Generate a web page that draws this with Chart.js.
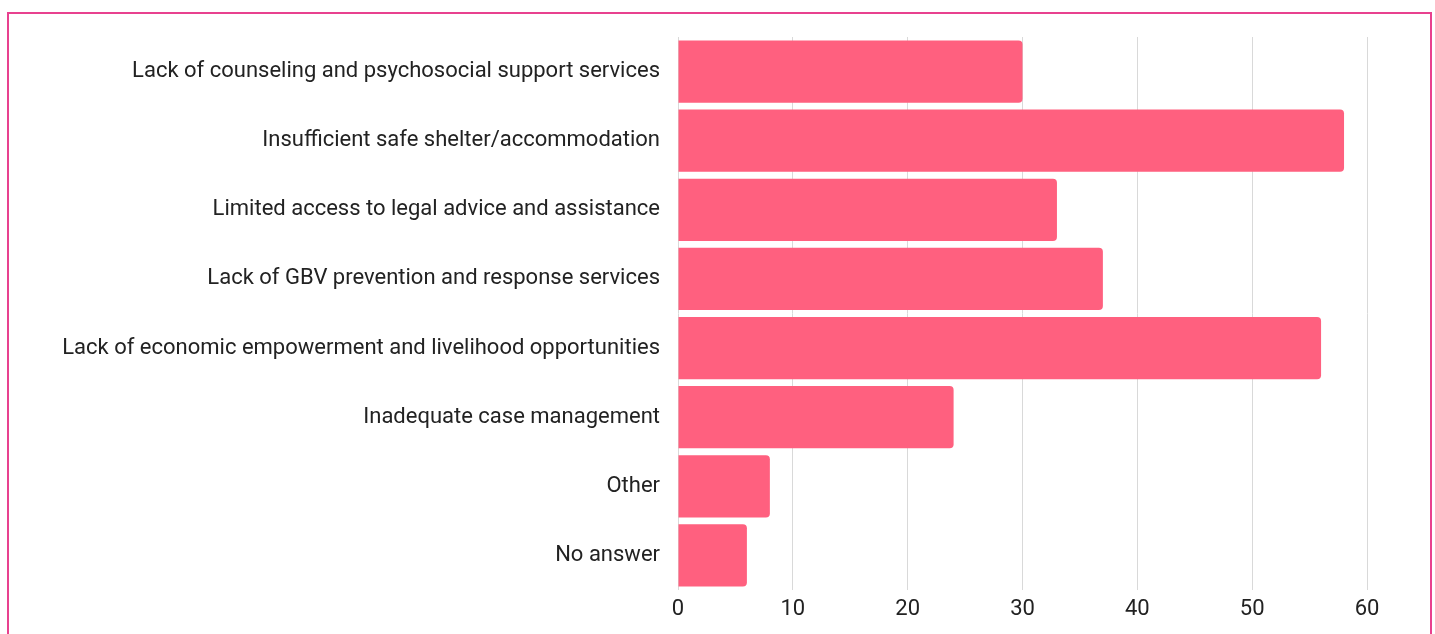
<!DOCTYPE html>
<html>
<head>
<meta charset="utf-8">
<script src="https://cdn.jsdelivr.net/npm/chart.js@4.4.1/dist/chart.umd.min.js"></script>
<style>
  html, body { margin: 0; padding: 0; background: #fff; overflow: hidden; }
  #frame { position: absolute; left: 7px; top: 12px; width: 1425px; height: 700px; border: 2px solid #e8418f; box-sizing: border-box; }
  #wrap { position: absolute; left: 0; top: 0; width: 1435px; height: 634px; }
</style>
</head>
<body>
<div id="frame"></div>
<div id="wrap"><canvas id="c"></canvas></div>
<script>
const categories = [
  "Lack of counseling and psychosocial support services",
  "Insufficient safe shelter/accommodation",
  "Limited access to legal advice and assistance",
  "Lack of GBV prevention and response services",
  "Lack of economic empowerment and livelihood opportunities",
  "Inadequate case management",
  "Other",
  "No answer"
];
const values = [30, 58, 33, 37, 56, 24, 8, 6];
const xTicks = [0, 10, 20, 30, 40, 50, 60];

new Chart(document.getElementById('c'), {
  type: 'bar',
  data: {
    labels: categories,
    datasets: [{
      data: values,
      backgroundColor: '#ff607f',
      borderRadius: { topRight: 4, bottomRight: 4, topLeft: 0, bottomLeft: 0 },
      borderSkipped: 'start',
      barPercentage: 0.9,
      categoryPercentage: 1.0
    }]
  },
  options: {
    indexAxis: 'y',
    responsive: true,
    maintainAspectRatio: false,
    animation: false,
    layout: { padding: { top: 37, right: 68, bottom: 0, left: 0 } },
    plugins: { legend: { display: false }, tooltip: { enabled: false } },
    scales: {
      x: {
        min: 0, max: 60,
        afterBuildTicks: s => { s.ticks = xTicks.map(v => ({ value: v })); },
        grid: { color: '#d9d9d9', lineWidth: 1, drawTicks: false, drawOnChartArea: true },
        border: { display: false },
        ticks: { color: '#222', font: { family: 'Roboto', size: 22 }, padding: 6 },
        afterFit: s => { s.height = 44; }
      },
      y: {
        grid: { display: false, drawTicks: false },
        border: { display: false },
        ticks: { color: '#222', font: { family: 'Roboto', size: 22 }, padding: 18, autoSkip: false },
        afterFit: s => { s.width = 678; }
      }
    }
  }
});
</script>
</body>
</html>
